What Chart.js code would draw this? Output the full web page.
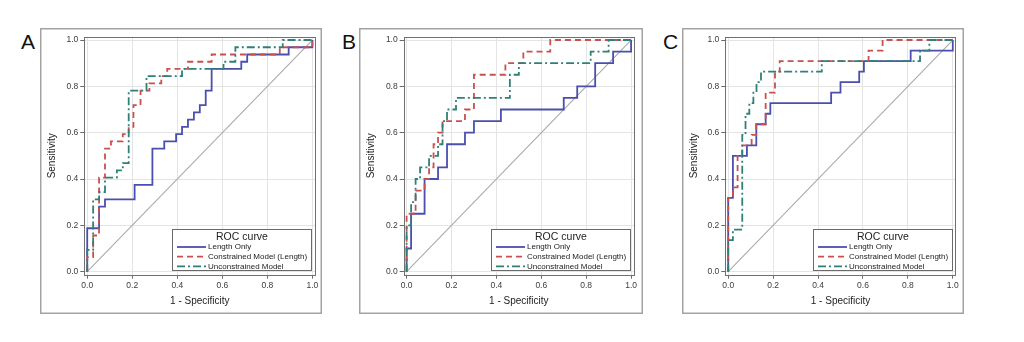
<!DOCTYPE html>
<html>
<head>
<meta charset="utf-8">
<script src="https://cdn.jsdelivr.net/npm/chart.js@4.4.0/dist/chart.umd.min.js"></script>
<style>
  html, body { margin: 0; padding: 0; background: #fff; width: 1024px; height: 342px; overflow: hidden; }
  .panel { position: absolute; }
  .panel canvas { position: absolute; left: 0; top: 0; }
  .letter { position: absolute; font-family: "Liberation Sans", Arial, sans-serif; font-size: 21px; line-height: 1; color: #111; }
</style>
</head>
<body>
<div class="letter" style="left:21px;top:31px">A</div>
<div class="letter" style="left:342px;top:31px">B</div>
<div class="letter" style="left:663px;top:31px">C</div>
<div class="panel" style="left:40px;top:28px;width:282px;height:286px"><canvas id="rocA" width="282" height="286"></canvas></div>
<div class="panel" style="left:359px;top:28px;width:284px;height:286px"><canvas id="rocB" width="284" height="286"></canvas></div>
<div class="panel" style="left:682px;top:28px;width:282px;height:286px"><canvas id="rocC" width="282" height="286"></canvas></div>
<script>
// Shared axis ticks and labels
const tickValues = [0, 0.2, 0.4, 0.6, 0.8, 1.0];
const xTitle = '1 - Specificity';
const yTitle = 'Sensitivity';
const legendTitle = 'ROC curve';
const seriesLabels = ['Length Only', 'Constrained Model (Length)', 'Unconstrained Model'];
const chanceLine = [[0, 0], [1, 1]];

// ROC points as [1 - specificity, sensitivity]
// Panel A
const lengthOnlyA = [[0,0],[0,0.1875],[0.0526,0.1875],[0.0526,0.28125],[0.0789,0.28125],[0.0789,0.3125],[0.2105,0.3125],[0.2105,0.375],[0.2895,0.375],[0.2895,0.53125],[0.3421,0.53125],[0.3421,0.5625],[0.3947,0.5625],[0.3947,0.59375],[0.4211,0.59375],[0.4211,0.625],[0.4474,0.625],[0.4474,0.65625],[0.4737,0.65625],[0.4737,0.6875],[0.5,0.6875],[0.5,0.71875],[0.5263,0.71875],[0.5263,0.78125],[0.5526,0.78125],[0.5526,0.875],[0.6842,0.875],[0.6842,0.90625],[0.7105,0.90625],[0.7105,0.9375],[0.8947,0.9375],[0.8947,0.96875],[1,0.96875],[1,1]];
const constrainedA = [[0,0],[0,0.0625],[0.0263,0.0625],[0.0263,0.15625],[0.0526,0.15625],[0.0526,0.40625],[0.0789,0.40625],[0.0789,0.53125],[0.1053,0.53125],[0.1053,0.5625],[0.1579,0.5625],[0.1579,0.59375],[0.1842,0.59375],[0.1842,0.625],[0.2053,0.625],[0.2053,0.71875],[0.2368,0.71875],[0.2368,0.78125],[0.2763,0.78125],[0.2763,0.8125],[0.3289,0.8125],[0.3289,0.84375],[0.3553,0.84375],[0.3553,0.875],[0.4474,0.875],[0.4474,0.90625],[0.5526,0.90625],[0.5526,0.9375],[0.8553,0.9375],[0.8553,0.96875],[1,0.96875],[1,1]];
const unconstrainedA = [[0,0],[0,0.09375],[0.0263,0.09375],[0.0263,0.3125],[0.0526,0.3125],[0.0526,0.34375],[0.0789,0.34375],[0.0789,0.40625],[0.1316,0.40625],[0.1316,0.4375],[0.1579,0.4375],[0.1579,0.46875],[0.1842,0.46875],[0.1842,0.78125],[0.2632,0.78125],[0.2632,0.84375],[0.4211,0.84375],[0.4211,0.875],[0.6053,0.875],[0.6053,0.90625],[0.6579,0.90625],[0.6579,0.96875],[0.8684,0.96875],[0.8684,1],[1,1]];

// Panel B
const lengthOnlyB = [[0,0],[0,0.10],[0.02,0.10],[0.02,0.25],[0.08,0.25],[0.08,0.40],[0.14,0.40],[0.14,0.45],[0.18,0.45],[0.18,0.55],[0.26,0.55],[0.26,0.60],[0.30,0.60],[0.30,0.65],[0.42,0.65],[0.42,0.70],[0.70,0.70],[0.70,0.75],[0.76,0.75],[0.76,0.80],[0.84,0.80],[0.84,0.90],[0.92,0.90],[0.92,0.95],[1,0.95],[1,1]];
const constrainedB = [[0,0],[0,0.25],[0.04,0.25],[0.04,0.35],[0.08,0.35],[0.08,0.40],[0.10,0.40],[0.10,0.45],[0.12,0.45],[0.12,0.55],[0.14,0.55],[0.14,0.60],[0.16,0.60],[0.16,0.65],[0.26,0.65],[0.26,0.70],[0.30,0.70],[0.30,0.85],[0.44,0.85],[0.44,0.90],[0.52,0.90],[0.52,0.95],[0.64,0.95],[0.64,1],[1,1]];
const unconstrainedB = [[0,0],[0,0.20],[0.02,0.20],[0.02,0.30],[0.04,0.30],[0.04,0.40],[0.06,0.40],[0.06,0.45],[0.10,0.45],[0.10,0.50],[0.14,0.50],[0.14,0.55],[0.16,0.55],[0.16,0.65],[0.18,0.65],[0.18,0.70],[0.22,0.70],[0.22,0.75],[0.46,0.75],[0.46,0.85],[0.50,0.85],[0.50,0.90],[0.82,0.90],[0.82,0.95],[0.90,0.95],[0.90,1],[1,1]];

// Panel C
const lengthOnlyC = [[0,0],[0,0.3182],[0.0208,0.3182],[0.0208,0.5],[0.0833,0.5],[0.0833,0.5455],[0.125,0.5455],[0.125,0.6364],[0.1667,0.6364],[0.1667,0.6818],[0.1875,0.6818],[0.1875,0.7273],[0.4583,0.7273],[0.4583,0.7727],[0.5,0.7727],[0.5,0.8182],[0.5833,0.8182],[0.5833,0.8636],[0.6042,0.8636],[0.6042,0.9091],[0.8125,0.9091],[0.8125,0.9545],[1,0.9545],[1,1]];
const constrainedC = [[0,0],[0,0.3182],[0.0208,0.3182],[0.0208,0.3636],[0.0417,0.3636],[0.0417,0.5],[0.0625,0.5],[0.0625,0.5455],[0.1042,0.5455],[0.1042,0.5909],[0.125,0.5909],[0.125,0.6364],[0.1667,0.6364],[0.1667,0.7727],[0.2083,0.7727],[0.2083,0.8636],[0.2292,0.8636],[0.2292,0.9091],[0.625,0.9091],[0.625,0.9545],[0.6875,0.9545],[0.6875,1],[1,1]];
const unconstrainedC = [[0,0],[0,0.1364],[0.0208,0.1364],[0.0208,0.1818],[0.0625,0.1818],[0.0625,0.5909],[0.077,0.5909],[0.077,0.6818],[0.094,0.6818],[0.094,0.7273],[0.112,0.7273],[0.112,0.7727],[0.126,0.7727],[0.126,0.8182],[0.146,0.8182],[0.146,0.8636],[0.4167,0.8636],[0.4167,0.9091],[0.8542,0.9091],[0.8542,0.9545],[0.8958,0.9545],[0.8958,1],[1,1]];

const FONT = '"Liberation Sans", Arial, sans-serif';
const seriesStyles = [
  { color: '#4a4fae', dash: [] },
  { color: '#c8504e', dash: [6, 4] },
  { color: '#2f8077', dash: [8, 3, 2, 3] }
];

const toXY = pts => pts.map(p => ({ x: p[0], y: p[1] }));

// Outer box around each panel
const panelBorder = {
  id: 'panelBorder',
  beforeDraw(chart) {
    const { ctx, width, height } = chart;
    ctx.save();
    ctx.strokeStyle = '#a3a3a3';
    ctx.lineWidth = 1.5;
    ctx.strokeRect(0.75, 0.75, width - 1.5, height - 1.5);
    ctx.restore();
  }
};

// Plot frame on all four sides
const plotFrame = {
  id: 'plotFrame',
  beforeDatasetsDraw(chart) {
    const { ctx, chartArea: a } = chart;
    ctx.save();
    ctx.strokeStyle = '#707070';
    ctx.lineWidth = 1;
    ctx.strokeRect(Math.round(a.left) + 0.5, Math.round(a.top) + 0.5, Math.round(a.right - a.left), Math.round(a.bottom - a.top));
    ctx.restore();
  }
};

// Titled legend box in the lower right corner of the plot
const rocLegend = {
  id: 'rocLegend',
  afterDatasetsDraw(chart) {
    const { ctx, chartArea: a } = chart;
    const w = 140, h = 42;
    const x = Math.round(a.right - 3 - w), y = Math.round(a.bottom - 4 - h);
    ctx.save();
    ctx.fillStyle = '#fff';
    ctx.fillRect(x, y, w, h);
    ctx.strokeStyle = '#6a6a6a';
    ctx.lineWidth = 1;
    ctx.strokeRect(x + 0.5, y + 0.5, w - 1, h - 1);
    ctx.fillStyle = '#222';
    ctx.textBaseline = 'middle';
    ctx.textAlign = 'center';
    ctx.font = '10.5px ' + FONT;
    ctx.fillText(legendTitle, x + w / 2, y + 8);
    ctx.textAlign = 'left';
    ctx.font = '8px ' + FONT;
    const items = chart.data.datasets.filter(d => d.label);
    items.forEach((d, i) => {
      const ry = y + 18 + i * 9.7;
      ctx.strokeStyle = d.borderColor;
      ctx.lineWidth = d.borderWidth;
      ctx.setLineDash(d.borderDash || []);
      ctx.beginPath();
      ctx.moveTo(x + 5, ry);
      ctx.lineTo(x + 34, ry);
      ctx.stroke();
      ctx.setLineDash([]);
      ctx.fillStyle = '#222';
      ctx.fillText(d.label, x + 36, ry);
    });
    ctx.restore();
  }
};

function axis(title, isY, size, titlePad) {
  return {
    type: 'linear',
    min: -0.013,
    max: 1.013,
    afterBuildTicks: s => { s.ticks = tickValues.map(v => ({ value: v })); },
    afterFit: s => { if (isY) s.width = size; else s.height = size; },
    ticks: {
      callback: v => Number(v).toFixed(1),
      font: { family: FONT, size: 8.5 },
      color: '#3c3c3c',
      padding: 2,
      maxRotation: 0,
      autoSkip: false
    },
    grid: { color: '#e4e4e4', lineWidth: 1, tickColor: '#6a6a6a', tickLength: 4, drawTicks: true },
    border: { display: false },
    title: { display: true, text: title, font: { family: FONT, size: 10 }, color: '#222', padding: titlePad }
  };
}

function drawPanel(id, curves, yAxisWidth, rightPad) {
  const datasets = curves.map((pts, i) => ({
    label: seriesLabels[i],
    data: toXY(pts),
    showLine: true,
    borderColor: seriesStyles[i].color,
    borderDash: seriesStyles[i].dash,
    borderWidth: 1.8,
    pointRadius: 0,
    tension: 0,
    fill: false,
    order: 3 - i
  }));
  datasets.push({
    label: '',
    data: toXY(chanceLine),
    showLine: true,
    borderColor: '#ababab',
    borderWidth: 1.1,
    pointRadius: 0,
    fill: false,
    order: 10
  });
  new Chart(document.getElementById(id), {
    type: 'scatter',
    data: { datasets },
    options: {
      responsive: false,
      animation: false,
      devicePixelRatio: 1,
      layout: { padding: { top: 9, right: rightPad, left: 0, bottom: 0 } },
      plugins: { legend: { display: false }, tooltip: { enabled: false } },
      scales: {
        x: axis(xTitle, false, 39.3, { top: 0, bottom: 6.5 }),
        y: axis(yTitle, true, yAxisWidth, { top: 6, bottom: 0 })
      }
    },
    plugins: [panelBorder, plotFrame, rocLegend]
  });
}

drawPanel('rocA', [lengthOnlyA, constrainedA, unconstrainedA], 44.3, 6.7);
drawPanel('rocB', [lengthOnlyB, constrainedB, unconstrainedB], 44.7, 9);
drawPanel('rocC', [lengthOnlyC, constrainedC, unconstrainedC], 43.3, 8.3);
</script>
</body>
</html>
